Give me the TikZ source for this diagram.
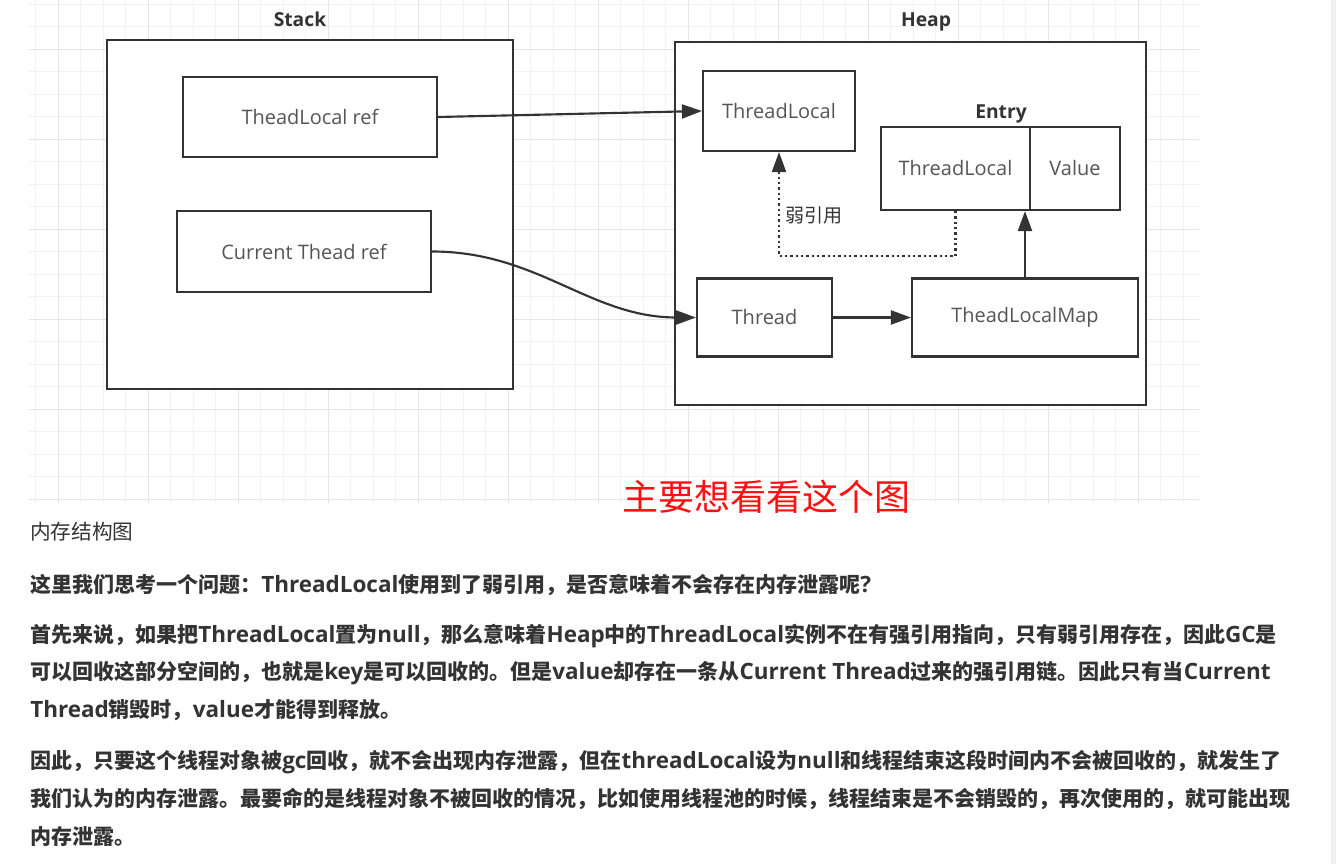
\documentclass[tikz,border=0pt]{standalone}
\usepackage{fontspec}
\setmainfont{Noto Sans CJK SC}
\newfontfamily\latfont{Open Sans}[Scale=1.07]
\newcommand{\lat}[1]{{\latfont #1}}
\usetikzlibrary{arrows.meta,positioning}
\definecolor{linegray}{HTML}{333333}
\definecolor{boxtext}{HTML}{555555}
\definecolor{paratext}{HTML}{333333}
\definecolor{gridminor}{HTML}{F2F2F2}
\definecolor{gridmajor}{HTML}{E6E6E6}
\definecolor{notered}{HTML}{FF1010}
\newcommand{\pxu}{0.75pt}

\begin{document}
\begin{tikzpicture}[x=0.75pt,y=-0.75pt,
    box/.style={draw=linegray, line width=1.6pt, fill=white, text=boxtext,
      font=\latfont\fontsize{14}{16}\selectfont, inner sep=0pt},
    title/.style={anchor=base, text=linegray, font=\latfont\fontsize{13.5}{16}\selectfont\bfseries, inner sep=0pt},
    conn/.style={draw=linegray, line width=1.6pt, -{Triangle[length=15pt,width=10.5pt]}},
    weak/.style={conn, dash pattern=on 1.6pt off 2.4pt},
    para/.style={anchor=west, inner sep=0pt, text=paratext,
      font=\fontsize{15.75}{18}\selectfont\bfseries}]
    \useasboundingbox (0,0) rectangle (1336,864);
    \fill[white] (0,0) rectangle (1336,864);
    \fill[gray!12] (1331,0) rectangle (1336,864);
    % grid
    \foreach \gx in {35.5,58,...,1199}
        \draw[gridminor, line width=0.75pt] (\gx,0) -- (\gx,503);
    \foreach \gy in {4,26.5,...,499}
        \draw[gridminor, line width=0.75pt] (29,\gy) -- (1199,\gy);
    \foreach \gx in {58,148,...,1138}
        \draw[gridmajor, line width=0.75pt] (\gx,0) -- (\gx,503);
    \foreach \gy in {49,139,...,499}
        \draw[gridmajor, line width=0.75pt] (29,\gy) -- (1199,\gy);

    % stack
    \node[box, minimum width=406*\pxu, minimum height=349*\pxu] (stack) at (310,214.5) {};
    \node[title] (stacklbl) at (300,26) {Stack};
    \node[box, minimum width=254*\pxu, minimum height=80*\pxu] (tlref) at (310,117) {TheadLocal ref};
    \node[box, minimum width=254*\pxu, minimum height=81*\pxu] (ctref) at (304,251.5) {Current Thead ref};

    % heap
    \node[box, minimum width=471*\pxu, minimum height=363*\pxu] (heap) at (910.5,223.5) {};
    \node[title] (heaplbl) at (926,26) {Heap};
    \node[box, minimum width=152*\pxu, minimum height=80*\pxu] (tl) at (779,111) {ThreadLocal};
    \node[title] (entrylbl) at (1001,118) {Entry};
    \node[box, minimum width=149*\pxu, minimum height=83*\pxu] (entrykey) at (955.5,168.5) {ThreadLocal};
    \node[box, minimum width=90*\pxu, minimum height=83*\pxu] (entryval) at (1075,168.5) {Value};
    \node[box, minimum width=135*\pxu, minimum height=78*\pxu] (thread) at (764.5,317.5) {Thread};
    \node[box, minimum width=226*\pxu, minimum height=78*\pxu] (map) at (1025,317.5) {TheadLocalMap};

    % references
    \draw[conn] (tlref.east) -- (tl.west);
    \draw[conn] (ctref.east) to[out=0, in=180] (thread.west);
    \draw[conn] (thread) -- (map);
    \draw[conn] (map.north) -- (map.north |- entrykey.south);
    \draw[weak] (entrykey.south) -- ++(0,45) -| (tl.south);
    \node[anchor=west, inner sep=0pt, text=linegray, font=\fontsize{14.25}{16}\selectfont] (weaklbl) at (785,215) {弱引用};

    % notes below
    \node[inner sep=0pt, text=notered, font=\fontsize{27}{30}\selectfont] (note) at (766,497) {主要想看看这个图};
    \node[anchor=west, inner sep=0pt, text=paratext, font=\fontsize{15.5}{17}\selectfont] (caption) at (30,532) {内存结构图};
    \node[para] (p1) at (30,585) {这里我们思考一个问题：\lat{ThreadLocal}使用到了弱引用，是否意味着不会存在内存泄露呢\lat{?}};
    \node[para] (p2a) at (30,636) {首先来说，如果把\lat{ThreadLocal}置为\lat{null}，那么意味着\lat{Heap}中的\lat{ThreadLocal}实例不在有强引用指向，只有弱引用存在，因此\lat{GC}是};
    \node[para] (p2b) at (30,673) {可以回收这部分空间的，也就是\lat{key}是可以回收的。但是\lat{value}却存在一条从\lat{Current Thread}过来的强引用链。因此只有当\lat{Current}};
    \node[para] (p2c) at (30,710) {\lat{Thread}销毁时，\lat{value}才能得到释放。};
    \node[para] (p3a) at (30,762) {因此，只要这个线程对象被\lat{gc}回收，就不会出现内存泄露，但在\lat{threadLocal}设为\lat{null}和线程结束这段时间内不会被回收的，就发生了};
    \node[para] (p3b) at (30,799) {我们认为的内存泄露。最要命的是线程对象不被回收的情况，比如使用线程池的时候，线程结束是不会销毁的，再次使用的，就可能出现};
    \node[para] (p3c) at (30,837) {内存泄露。};
\end{tikzpicture}
\end{document}
